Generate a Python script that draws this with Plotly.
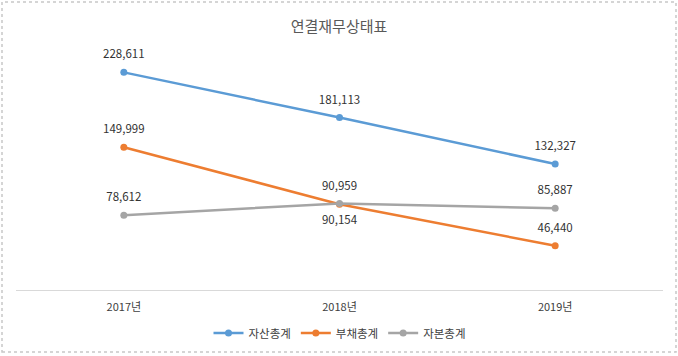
import plotly.graph_objects as go

years = ["2017년", "2018년", "2019년"]
assets = [228611, 181113, 132327]
liabilities = [149999, 90154, 46440]
equity = [78612, 90959, 85887]

names = ["자산총계", "부채총계", "자본총계"]
colors = ["#5B9BD5", "#ED7D31", "#A5A5A5"]
positions = [
    ["top center", "top center", "top center"],
    ["top center", "bottom center", "top center"],
    ["top center", "top center", "top center"],
]

FONT = "Noto Sans CJK KR"
fig = go.Figure()
for name, vals, col in zip(names, [assets, liabilities, equity], colors):
    fig.add_trace(go.Scatter(
        x=years, y=vals, name=name, mode="lines+markers",
        line=dict(color=col, width=2.5),
        marker=dict(color=col, size=7),
        hoverinfo="skip",
    ))
for name, vals, pos in zip(names, [assets, liabilities, equity], positions):
    fig.add_trace(go.Scatter(
        x=years, y=vals, mode="markers+text", showlegend=False,
        marker=dict(size=16, opacity=0),
        text=[f"{v:,}" for v in vals],
        textposition=pos,
        textfont=dict(family=FONT, size=11.5, color="#333333"),
        cliponaxis=False, hoverinfo="skip",
    ))

L, R, T, B = 16, 15, 52, 66
W, H = 678, 356
pw, ph = W - L - R, H - T - B
fig.update_layout(
    width=W, height=H,
    margin=dict(l=L, r=R, t=T, b=B, autoexpand=False),
    paper_bgcolor="white", plot_bgcolor="white",
    title=dict(text="연결재무상태표", x=0.5, xanchor="center", y=1 - 27 / H, yanchor="middle",
               font=dict(family=FONT, size=15, color="#595959")),
    font=dict(family=FONT, color="#595959"),
    showlegend=True,
    legend=dict(orientation="h", x=0.5, xanchor="center", yref="container", y=1 - 333 / H,
                yanchor="middle",
                font=dict(family=FONT, size=11.5, color="#404040"), itemwidth=30),
    xaxis=dict(showline=True, linecolor="#D9D9D9", linewidth=1, showgrid=False, zeroline=False,
               ticks="", ticklabelstandoff=7, automargin=False,
               tickfont=dict(family=FONT, size=11, color="#404040"), range=[-0.5, 2.5]),
    yaxis=dict(visible=False, range=[0, 250000], showgrid=False, zeroline=False),
    shapes=[dict(type="rect", xref="paper", yref="paper",
                 x0=(2 - L) / pw, x1=(676 - L) / pw,
                 y0=(290 - 352) / ph, y1=(290 - 2) / ph,
                 line=dict(color="#C8C8C8", width=1.5, dash="dot"))],
)
fig.write_html("out.html", config={"displayModeBar": False},
               post_script="document.body.style.margin='0';document.body.style.padding='0';")
